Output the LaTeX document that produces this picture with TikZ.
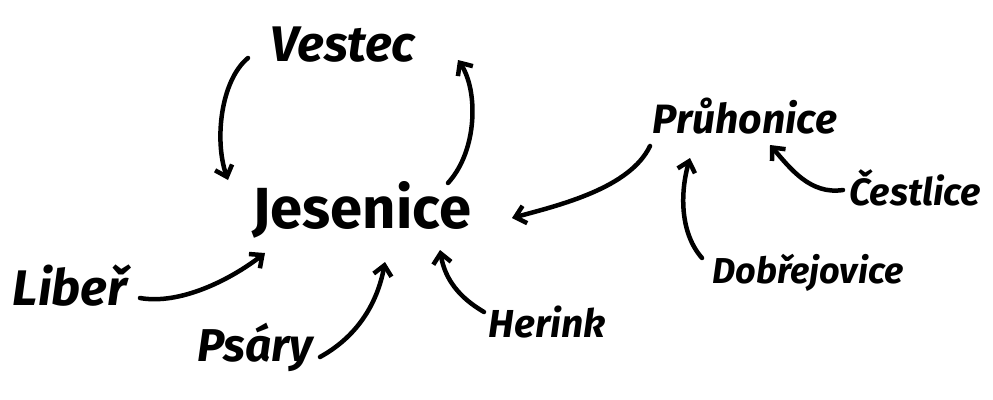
\documentclass[tikz,border=0pt]{standalone}
\usepackage{fontspec}
\setmainfont{Fira Sans}
\usetikzlibrary{arrows.meta,calc}
\begin{document}
\begin{tikzpicture}[x=1pt,y=-1pt,
  place/.style={inner sep=0pt,anchor=center,text=black},
  link/.style={line width=4.5pt,line cap=round,line join=round,
    -{Straight Barb[length=10pt,width=18pt,line width=4.5pt]}}]
\useasboundingbox[fill=white] (0,0) rectangle (993,399);
\node[place,font=\fontsize{50}{50}\selectfont\bfseries\itshape] (ves) at (343,45) {Vestec};
\node[place,font=\fontsize{58}{58}\selectfont\bfseries] (jes) at (362,210) {Jesenice};
\node[place,font=\fontsize{41}{41}\selectfont\bfseries\itshape] (pru) at (745,116) {Průhonice};
\node[place,font=\fontsize{38}{38}\selectfont\bfseries\itshape] (ces) at (915,188) {Čestlice};
\node[place,font=\fontsize{36}{36}\selectfont\bfseries\itshape] (dob) at (808,273) {Dobřejovice};
\node[place,font=\fontsize{50}{50}\selectfont\bfseries\itshape] (lib) at (70,286) {Libeř};
\node[place,font=\fontsize{46}{46}\selectfont\bfseries\itshape] (psa) at (255,347) {Psáry};
\node[place,font=\fontsize{39}{39}\selectfont\bfseries\itshape] (her) at (547,322) {Herink};

\draw[link] ($(ves)+(-95,13)$) .. controls ($(ves)+(-122,35)$) and ($(jes)+(-148,-70)$) .. ($(jes)+(-134,-30)$);
\draw[link] ($(jes)+(86,-27)$) .. controls ($(jes)+(116,-60)$) and ($(ves)+(135,45)$) .. ($(ves)+(115,15)$);
\draw[link] ($(pru)+(-95,30)$) .. controls ($(pru)+(-115,72)$) and ($(jes)+(198,-5)$) .. ($(jes)+(150,8)$);
\draw[link] ($(ces)+(-72,2)$) .. controls ($(ces)+(-105,7)$) and ($(pru)+(45,52)$) .. ($(pru)+(25,29)$);
\draw[link] ($(dob)+(-106,-15)$) .. controls ($(dob)+(-128,-40)$) and ($(pru)+(-65,77)$) .. ($(pru)+(-55,42)$);
\draw[link] ($(lib)+(70,12)$) .. controls ($(lib)+(110,19)$) and ($(jes)+(-132,70)$) .. ($(jes)+(-97,43)$);
\draw[link] ($(psa)+(65,10)$) .. controls ($(psa)+(105,-12)$) and ($(jes)+(16,90)$) .. ($(jes)+(23,52)$);
\draw[link] ($(her)+(-63,-10)$) .. controls ($(her)+(-87,-24)$) and ($(jes)+(83,70)$) .. ($(jes)+(78,40)$);
\end{tikzpicture}
\end{document}
